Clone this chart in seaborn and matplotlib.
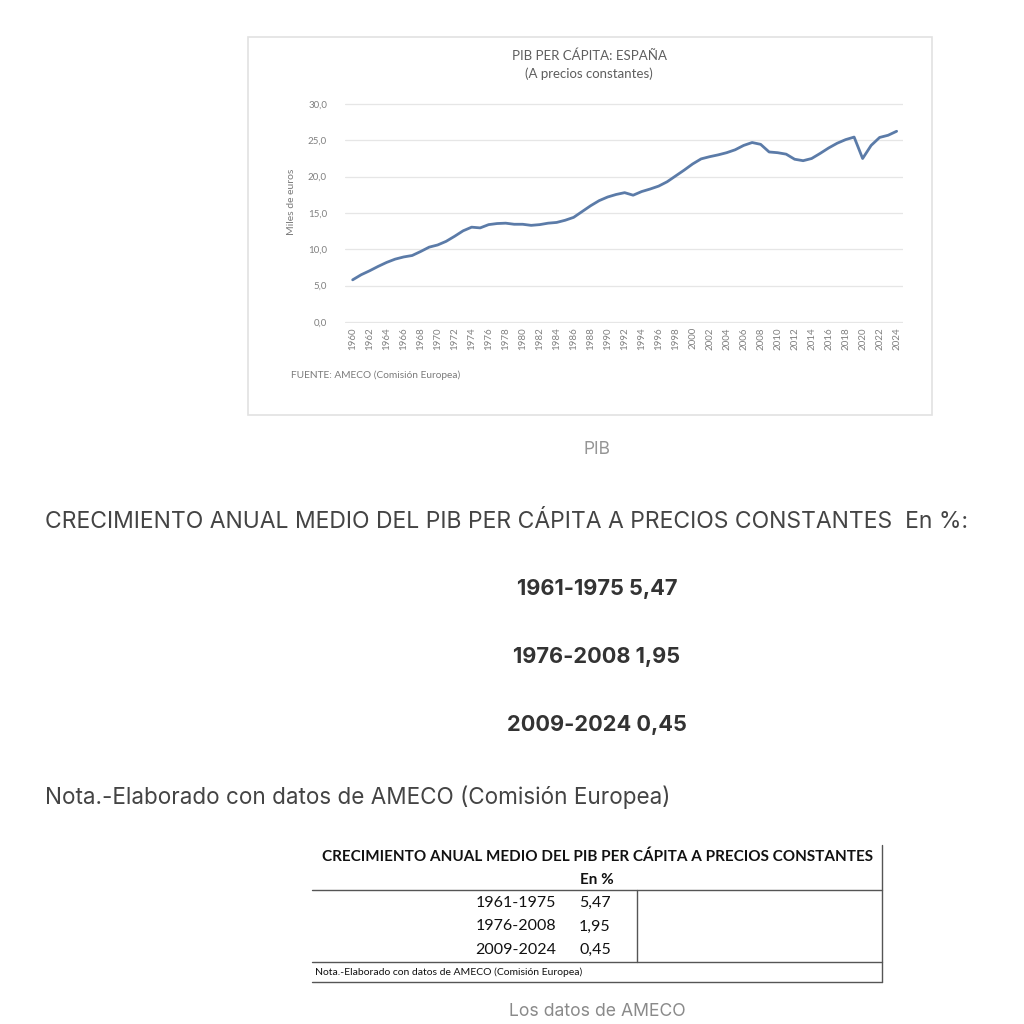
import numpy as np
import pandas as pd
import matplotlib.pyplot as plt
from matplotlib.patches import Rectangle
from matplotlib.lines import Line2D
import seaborn as sns

# ── data (miles de euros, precios constantes) ──
years = list(range(1960, 2025))
pib_pc = [
    5.8, 6.5, 7.05, 7.65, 8.2, 8.65, 8.95, 9.15, 9.7, 10.3,      # 1960-69
    10.6, 11.1, 11.8, 12.55, 13.05, 12.95, 13.4, 13.55, 13.6, 13.45,  # 1970-79
    13.45, 13.3, 13.4, 13.6, 13.7, 14.0, 14.4, 15.2, 16.0, 16.7,  # 1980-89
    17.2, 17.55, 17.8, 17.45, 17.95, 18.3, 18.7, 19.3, 20.1, 20.9,  # 1990-99
    21.75, 22.45, 22.75, 23.0, 23.3, 23.7, 24.3, 24.7, 24.45, 23.4,  # 2000-09
    23.3, 23.1, 22.4, 22.2, 22.5, 23.2, 23.95, 24.6, 25.1, 25.45,  # 2010-19
    22.5, 24.3, 25.4, 25.7, 26.25,                                # 2020-24
]
yticks = [0, 5, 10, 15, 20, 25, 30]
periods = ["1961-1975", "1976-2008", "2009-2024"]
growth = ["5,47", "1,95", "0,45"]

df = pd.DataFrame({"year": years, "pib": pib_pc})

sns.set_style("white")
plt.rcParams["font.family"] = ["Lato", "DejaVu Sans"]
WEB = ["Inter", "DejaVu Sans"]   # page font (blog text)

W = 1024
fig = plt.figure(figsize=(10.24, 10.24), dpi=100)


def fx(px):
    return px / W


def fy(py):
    return 1 - py / W


def box(x0, y0, x1, y1):
    return [fx(x0), fy(y1), fx(x1 - x0), (y1 - y0) / W]


# ── chart frame ─────────────────────────────
fig.patches.append(Rectangle((fx(248), fy(415)), fx(932 - 248), (415 - 37) / W,
                             transform=fig.transFigure, fill=False,
                             edgecolor="#e2e2e2", linewidth=1.2))

ax = fig.add_axes(box(345, 103, 903, 323))
sns.lineplot(data=df, x="year", y="pib", ax=ax, color="#5b7ba8", linewidth=2.0)
ax.set_xlim(1959.1, 2024.75)
ax.set_ylim(-0.14, 30.14)
ax.set_yticks(yticks)
ax.set_yticklabels([f"{v:.1f}".replace(".", ",") for v in yticks])
ax.set_xticks(years[::2])
ax.set_xticklabels([str(y) for y in years[::2]], rotation=90)
ax.tick_params(axis="both", length=0, labelsize=7, labelcolor="#808080")
ax.tick_params(axis="y", pad=13)
ax.tick_params(axis="x", pad=3)
ax.grid(axis="y", color="#e6e6e6", linewidth=0.9)
ax.grid(axis="x", visible=False)
for s in ax.spines.values():
    s.set_visible(False)
ax.set_xlabel("")
ax.set_ylabel("")

fig.text(fx(291), fy(202), "Miles de euros", rotation=90, ha="center",
         va="center", fontsize=7.5, color="#7a7a7a")
fig.text(fx(589), fy(56), "PIB PER CÁPITA: ESPAÑA", ha="center", va="center",
         fontsize=9.5, color="#5e5e5e")
fig.text(fx(589), fy(74), "(A precios constantes)", ha="center", va="center",
         fontsize=9.5, color="#5e5e5e")
fig.text(fx(291), fy(375), "FUENTE: AMECO (Comisión Europea)", ha="left",
         va="center", fontsize=7.3, color="#7a7a7a")
fig.text(fx(597), fy(450), "PIB", ha="center", va="center", fontsize=12.5,
         color="#959595", family=WEB)

# ── page text ───────────────────────────────
fig.text(fx(45), fy(522),
         "CRECIMIENTO ANUAL MEDIO DEL PIB PER CÁPITA A PRECIOS CONSTANTES  En %:",
         ha="left", va="center", fontsize=16.5, color="#444444", family=WEB)
for i, (p, g) in enumerate(zip(periods, growth)):
    fig.text(fx(597), fy(589 + 68 * i), f"{p} {g}", ha="center", va="center",
             fontsize=15.7, fontweight="bold", color="#333333", family=WEB)
fig.text(fx(45), fy(797), "Nota.-Elaborado con datos de AMECO (Comisión Europea)",
         ha="left", va="center", fontsize=16.2, color="#444444", family=WEB)

# ── table image ─────────────────────────────
lc = "#555555"
for yy in (890, 962, 982):
    fig.lines.append(Line2D([fx(312), fx(882)], [fy(yy), fy(yy)],
                            transform=fig.transFigure, color=lc, linewidth=1))
fig.lines.append(Line2D([fx(882), fx(882)], [fy(845), fy(982)],
                        transform=fig.transFigure, color=lc, linewidth=1))
fig.lines.append(Line2D([fx(637), fx(637)], [fy(890), fy(962)],
                        transform=fig.transFigure, color=lc, linewidth=1))
fig.text(fx(597), fy(857),
         "CRECIMIENTO ANUAL MEDIO DEL PIB PER CÁPITA A PRECIOS CONSTANTES",
         ha="center", va="center", fontsize=11, fontweight="bold", color="#111111")
fig.text(fx(597), fy(880), "En %", ha="center", va="center", fontsize=11,
         fontweight="bold", color="#111111")
for i, (p, g) in enumerate(zip(periods, growth)):
    fig.text(fx(556), fy(903 + 23.5 * i), p, ha="right", va="center",
             fontsize=11.5, color="#111111")
    fig.text(fx(579), fy(903 + 23.5 * i), g, ha="left", va="center",
             fontsize=11.5, color="#111111")
fig.text(fx(315), fy(972), "Nota.-Elaborado con datos de AMECO (Comisión Europea)",
         ha="left", va="center", fontsize=7.5, color="#111111")

fig.text(fx(597), fy(1012), "Los datos de AMECO", ha="center", va="center",
         fontsize=12.7, color="#8a8a8a", family=WEB)

fig.savefig("out.png", dpi=100, facecolor="white")
